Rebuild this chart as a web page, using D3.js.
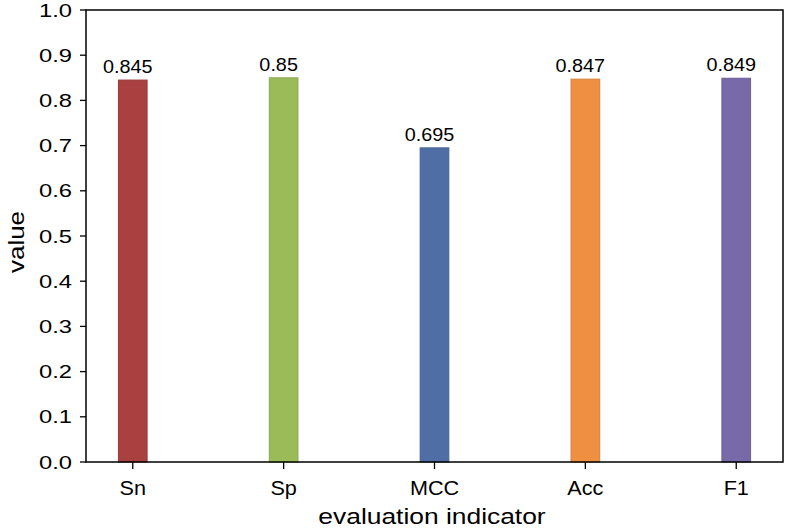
<!DOCTYPE html>
<html><head><meta charset="utf-8">
<script src="https://cdn.jsdelivr.net/npm/d3@7"></script>
<style>body{margin:0;background:#fff}text{font-family:"Liberation Sans",Arial,sans-serif;fill:#000}</style>
</head><body><svg id="c" width="787" height="529"></svg>
<script>
const categories = ["Sn","Sp","MCC","Acc","F1"];
const values = [0.845, 0.85, 0.695, 0.847, 0.849];
const colors = ["#aa4141","#9bbb59","#4f6ea5","#ee8f41","#786aa8"];
const yTicks = [0,0.1,0.2,0.3,0.4,0.5,0.6,0.7,0.8,0.9,1.0];

const svg = d3.select("#c");
const L=86, R=783, T=10, B=462;
const x = d3.scaleLinear().domain([-0.31, 4.31]).range([L,R]);
const y = d3.scaleLinear().domain([0,1]).range([B,T]);
const bw = x(0.19)-x(0);

svg.selectAll("rect.bar").data(values).enter().append("rect")
  .attr("x",(d,i)=>x(i)-bw/2).attr("width",bw)
  .attr("y",d=>y(d)).attr("height",d=>B-y(d))
  .attr("fill",(d,i)=>colors[i])
  .attr("stroke",(d,i)=>d3.color(colors[i]).darker(0.3)).attr("stroke-width",1);

svg.selectAll("text.val").data(values).enter().append("text")
  .attr("transform",(d,i)=>`translate(${x(i)-5},${y(d)-7}) scale(1.1,1)`)
  .attr("text-anchor","middle").attr("font-size",18).text(d=>d);

// frame
svg.append("rect").attr("x",L).attr("y",T).attr("width",R-L).attr("height",B-T)
  .attr("fill","none").attr("stroke","#000").attr("stroke-width",1.5);

// y ticks
const yg = svg.append("g");
yg.selectAll("line").data(yTicks).enter().append("line")
  .attr("x1",L-6).attr("x2",L).attr("y1",d=>y(d)).attr("y2",d=>y(d))
  .attr("stroke","#000").attr("stroke-width",1.3);
yg.selectAll("text").data(yTicks).enter().append("text")
  .attr("transform",d=>`translate(${L-14},${y(d)}) scale(1.25,1)`)
  .attr("text-anchor","end").attr("dy","0.35em").attr("font-size",19)
  .text(d3.format(".1f"));

// x ticks
const xg = svg.append("g");
xg.selectAll("line").data(categories).enter().append("line")
  .attr("x1",(d,i)=>x(i)).attr("x2",(d,i)=>x(i)).attr("y1",B).attr("y2",B+7)
  .attr("stroke","#000").attr("stroke-width",1.3);
xg.selectAll("text").data(categories).enter().append("text")
  .attr("transform",(d,i)=>`translate(${x(i)},495) scale(1.03,1)`)
  .attr("text-anchor","middle").attr("font-size",21).text(d=>d);

svg.append("text").attr("transform",`translate(432,524) scale(1.2,1)`).attr("text-anchor","middle")
  .attr("font-size",22).text("evaluation indicator");
svg.append("text").attr("transform",`translate(24,242) rotate(-90) scale(1.18,1)`)
  .attr("text-anchor","middle").attr("font-size",22).text("value");
</script></body></html>
